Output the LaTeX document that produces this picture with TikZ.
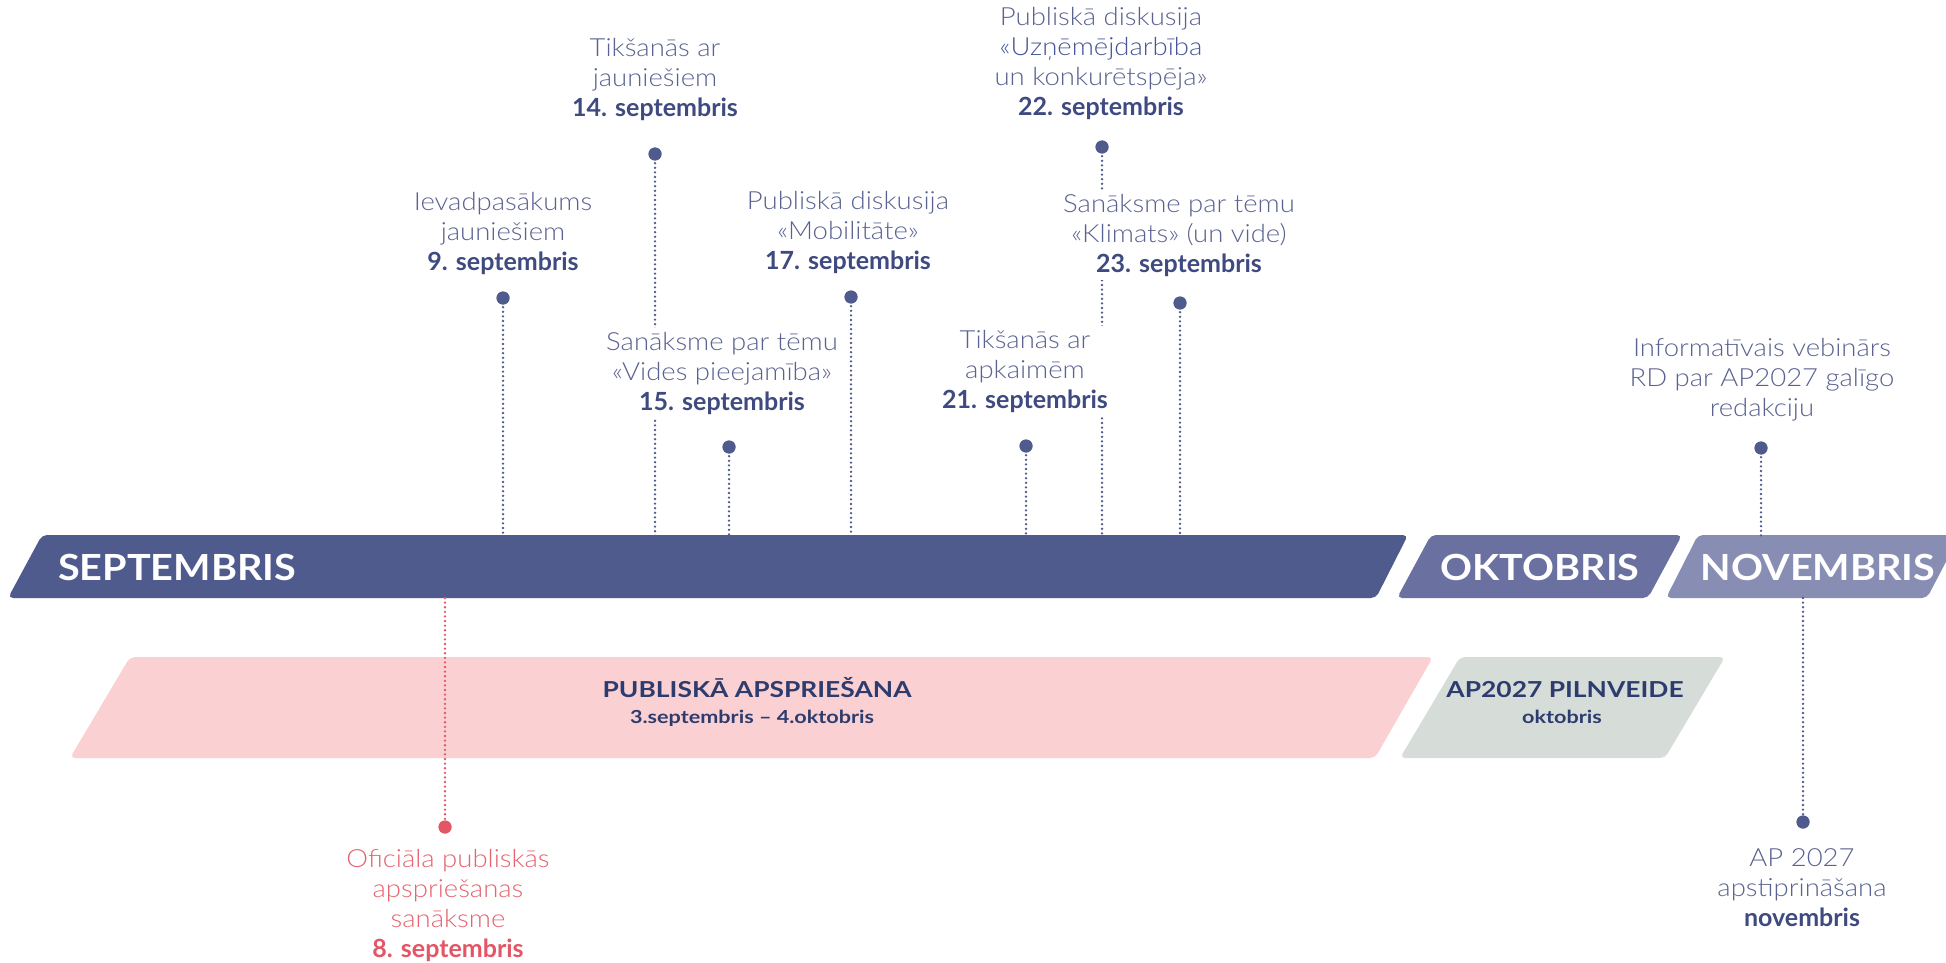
\documentclass[tikz,border=0pt]{standalone}
\usepackage{fontspec}
\setmainfont{Lato}
\newfontfamily\lightfont{Lato Light}[FakeStretch=1.1]
\newfontfamily\wideboldfont{Lato}[FakeStretch=1.2]
\newfontfamily\monthfont{Lato}[FakeStretch=1.1]
\definecolor{sept}{RGB}{79,90,141}
\definecolor{okt}{RGB}{106,112,160}
\definecolor{nov}{RGB}{136,141,180}
\definecolor{pinkb}{RGB}{250,208,210}
\definecolor{grayb}{RGB}{214,221,217}
\definecolor{navy}{RGB}{45,60,110}
\definecolor{lighttxt}{RGB}{90,98,145}
\definecolor{bluetxt}{RGB}{70,86,152}
\definecolor{datetxt}{RGB}{62,74,128}
\definecolor{redc}{RGB}{226,86,102}
\definecolor{redtxt}{RGB}{228,100,112}
\newcommand\dte[1]{{\fontspec{Lato}\bfseries\color{datetxt}#1}}
\newcommand\rdte[1]{{\fontspec{Lato}\bfseries\color{redc}#1}}
\tikzset{
  band/.style={rounded corners=5pt},
  evlabel/.style={align=center, fill=white, inner sep=4pt,
    font=\lightfont\fontsize{25}{30}\selectfont, text=lighttxt},
  dotline/.style={line width=2.6pt, dash pattern=on 0pt off 4.6pt, line cap=round, draw=sept},
  reddotline/.style={dotline, draw=redc},
  pin/.style={circle, fill=sept, inner sep=0pt, minimum size=13pt},
  redpin/.style={pin, fill=redc},
  monthlbl/.style={text=white, inner sep=0pt, font=\monthfont\bfseries\fontsize{36}{40}\selectfont},
  phaselbl/.style={text=navy, inner sep=0pt, font=\wideboldfont\bfseries\fontsize{22}{24}\selectfont},
  phasesub/.style={text=navy, inner sep=0pt, font=\wideboldfont\bfseries\fontsize{18}{20}\selectfont},
}
\begin{document}
\begin{tikzpicture}[x=1pt,y=-1pt]
\useasboundingbox (0,0) rectangle (1946,963);

% phase bands
\fill[pinkb, band] (130,657) -- (1433,657) -- (1375,758) -- (70,758) -- cycle;
\fill[grayb, band] (1460,657) -- (1725,657) -- (1665,758) -- (1400,758) -- cycle;
\node[phaselbl, anchor=base] (pubap) at (757,697) {PUBLISKĀ APSPRIEŠANA};
\node[phasesub, anchor=base] (pubapd) at (752,723) {3.septembris – 4.oktobris};
\node[phaselbl, anchor=base] (pilnv) at (1565,697) {AP2027 PILNVEIDE};
\node[phasesub, anchor=base] (pilnvd) at (1562,723) {oktobris};

% month bands
\fill[sept, band] (42,535) -- (1408,535) -- (1376,598) -- (8,598) -- cycle;
\fill[okt, band] (1431,535) -- (1682,535) -- (1648,598) -- (1397,598) -- cycle;
\fill[nov, band] (1698,535) -- (1960,535) -- (1927,598) -- (1666,598) -- cycle;
\node[monthlbl, anchor=west] (msep) at (58,567) {SEPTEMBRIS};
\node[monthlbl] (mokt) at (1540,567) {OKTOBRIS};
\node[monthlbl] (mnov) at (1818,567) {NOVEMBRIS};

% anchor coordinates on the bands
\coordinate (b9) at (503,536);
\coordinate (b14) at (655,536);
\coordinate (b15) at (729,536);
\coordinate (b17) at (851,536);
\coordinate (b21) at (1026,536);
\coordinate (b22) at (1102,536);
\coordinate (b23) at (1180,536);
\coordinate (bvb) at (1761,536);
\coordinate (b8) at (445,598);
\coordinate (bnov) at (1803,598);

% pins
\node[pin] (p9) at (503,298) {};
\node[pin] (p14) at (655,154) {};
\node[pin] (p15) at (729,447) {};
\node[pin] (p17) at (851,297) {};
\node[pin] (p21) at (1026,446) {};
\node[pin] (p22) at (1102,147) {};
\node[pin] (p23) at (1180,303) {};
\node[pin] (pvb) at (1761,448) {};
\node[redpin] (p8) at (445,827) {};
\node[pin] (pnov) at (1803,822) {};

% dotted connectors
\draw[dotline] (p9.center) -- (b9);
\draw[dotline] (p14.center) -- (b14);
\draw[dotline] (p15.center) -- (b15);
\draw[dotline] (p17.center) -- (b17);
\draw[dotline] (p21.center) -- (b21);
\draw[dotline] (p22.center) -- (b22);
\draw[dotline] (p23.center) -- (b23);
\draw[dotline] (pvb.center) -- (bvb);
\draw[reddotline] (b8) -- (p8.center);
\draw[dotline] (bnov) -- (pnov.center);

% redraw pins over lines
\foreach \p in {p9,p14,p15,p17,p21,p22,p23,pvb,pnov}{\fill[sept] (\p) circle (6.5pt);}
\fill[redc] (p8) circle (6.5pt);

% event labels
\node[evlabel] (l9) at (503,233) {Ievadpasākums\\jauniešiem\\\dte{9. septembris}};
\node[evlabel] (l14) at (655,80) {Tikšanās ar\\jauniešiem\\\dte{14. septembris}};
\node[evlabel] (l17) at (848,232) {Publiskā diskusija\\«Mobilitāte»\\\dte{17. septembris}};
\node[evlabel] (l22) at (1101,64) {Publiskā diskusija\\{\color{bluetxt}«Uzņēmējdarbība}\\un konkurētspēja»\\\dte{22. septembris}};
\node[evlabel] (l23) at (1179,235) {Sanāksme par tēmu\\«Klimats» (un vide)\\\dte{23. septembris}};
\node[evlabel] (l15) at (722,373) {Sanāksme par tēmu\\«Vides pieejamība»\\\dte{15. septembris}};
\node[evlabel] (l21) at (1025,371) {Tikšanās ar\\apkaimēm\\\dte{21. septembris}};
\node[evlabel] (lvb) at (1762,380) {Informatīvais vebinārs\\RD par AP2027 galīgo\\redakciju};
\node[evlabel, text=redtxt] (l8) at (448,905) {Oficiāla publiskās\\apspriešanas\\sanāksme\\\rdte{8. septembris}};
\node[evlabel] (lnov) at (1802,888) {AP 2027\\apstiprināšana\\\dte{novembris}};
\end{tikzpicture}
\end{document}
